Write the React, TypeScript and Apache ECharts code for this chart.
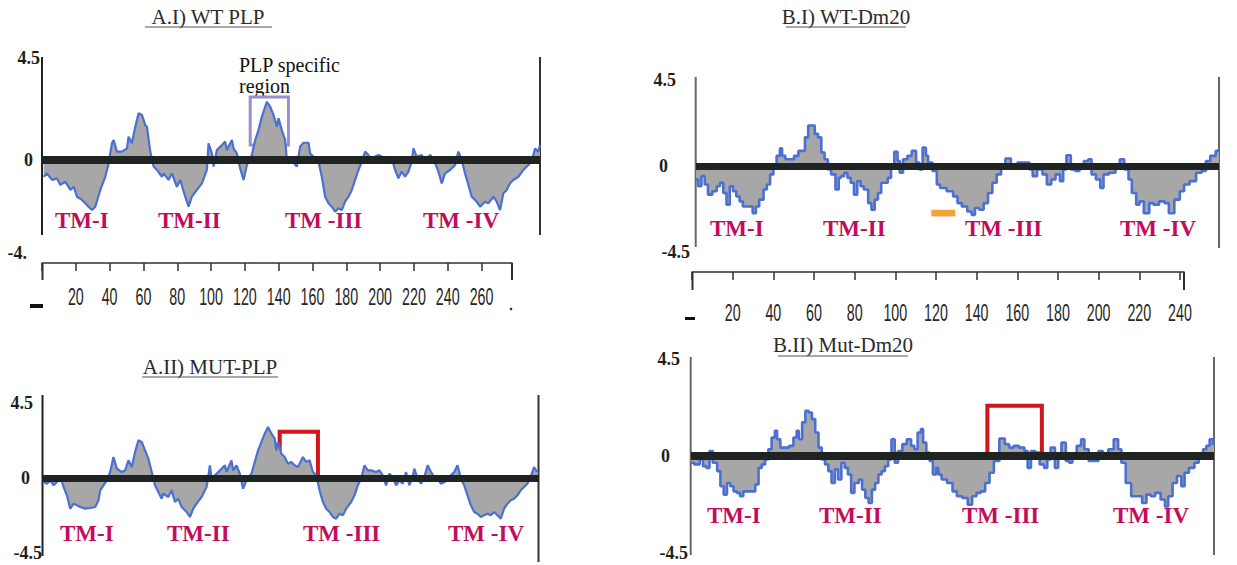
import React, { useEffect, useRef } from 'react';
import * as echarts from 'echarts';

// Hydropathy profiles: [residue position, hydropathy score]
const wtPlp: [number, number][] = [[1,-0.74],[3,-0.59],[6,-0.88],[9,-0.81],[11,-1.10],[14,-0.96],[17,-1.32],[19,-1.18],[21,-1.62],[24,-1.76],[27,-1.99],[30,-2.21],[32,-2.06],[35,-1.32],[38,-0.74],[40,-0.15],[42,0.74],[43,0.88],[45,0.37],[48,0.37],[51,0.51],[52,1.03],[54,0.74],[56,1.47],[58,2.06],[60,1.99],[62,1.54],[63,1.47],[65,0.37],[67,-0.29],[69,-0.44],[72,-0.74],[73,-0.59],[76,-0.88],[78,-0.59],[81,-1.18],[83,-0.88],[86,-1.62],[88,-2.06],[90,-1.62],[93,-1.32],[96,-1.03],[99,-0.44],[100,0.74],[102,0.29],[103,-0.29],[105,0.44],[108,0.66],[110,0.81],[111,0.44],[114,0.88],[115,0.51],[117,0.29],[119,-0.37],[121,-0.88],[123,-0.22],[126,0.22],[128,0.88],[130,1.32],[132,1.91],[135,2.57],[137,2.35],[139,1.99],[141,1.47],[142,1.84],[144,1.32],[146,0.88],[147,0],[148,-0.15],[150,0],[153,-0.29],[155,0.59],[157,0.76],[160,0.76],[161,0.29],[163,0.15],[166,-0.07],[168,-0.74],[170,-1.62],[172,-1.91],[174,-2.06],[176,-2.28],[178,-2.13],[180,-2.21],[182,-1.84],[184,-1.62],[186,-1.32],[188,-0.88],[190,-0.44],[192,-0.07],[194,0.37],[196,0.22],[198,-0.07],[200,0.15],[202,0.22],[204,0.15],[206,-0.07],[208,0.15],[210,0.07],[212,-0.44],[214,-0.81],[216,-0.51],[218,-0.74],[220,-0.51],[222,-0.07],[223,0.51],[225,0.15],[228,0.22],[230,-0.07],[233,0.22],[235,0.07],[238,-0.51],[240,-1.03],[242,-0.59],[245,-0.44],[248,-0.22],[250,0.37],[252,0],[254,-0.59],[256,-1.10],[258,-1.62],[261,-1.84],[263,-2.06],[266,-1.84],[268,-1.91],[271,-1.62],[273,-1.84],[275,-2.21],[277,-1.47],[279,-1.32],[281,-1.03],[283,-0.88],[286,-0.74],[289,-0.44],[292,-0.22],[294,-0.07],[296,0.51],[298,0.37],[299,0.66]];

const mutPlp: [number, number][] = [[1,-0.24],[3,-0.34],[5,-0.14],[7,-0.44],[9,-0.24],[11,0.06],[13,-0.54],[15,-1.04],[17,-1.84],[19,-1.54],[21,-1.64],[23,-1.74],[26,-1.84],[29,-1.80],[32,-1.74],[34,-1.34],[35,-0.74],[37,-0.44],[39,-0.14],[41,0.36],[43,1.26],[45,0.56],[48,0.36],[50,0.46],[52,1.06],[54,0.66],[56,1.56],[58,2.26],[60,2.16],[62,1.66],[64,1.16],[66,0.36],[68,-0.44],[70,-0.84],[72,-1.24],[73,-0.94],[76,-1.14],[78,-0.74],[80,-1.44],[82,-1.24],[84,-1.74],[87,-2.04],[89,-2.34],[91,-1.84],[93,-1.54],[96,-1.14],[99,-0.54],[100,0.06],[101,0.76],[102,-0.04],[105,0.26],[108,0.56],[110,0.76],[111,0.36],[114,1.06],[115,0.46],[117,0.76],[119,0.26],[121,-0.64],[123,-0.14],[126,0.26],[128,0.96],[130,1.66],[132,2.16],[134,2.66],[136,3.06],[138,2.66],[140,2.36],[141,1.66],[142,2.16],[144,1.46],[146,1.26],[148,0.86],[150,0.96],[152,0.76],[154,0.66],[157,1.26],[159,0.96],[161,1.06],[163,0.36],[165,0.16],[167,-0.74],[169,-1.44],[171,-1.84],[173,-2.04],[175,-2.34],[177,-2.44],[179,-2.14],[181,-2.24],[183,-1.84],[186,-1.44],[188,-1.04],[190,-0.44],[192,-0.04],[194,0.76],[196,0.46],[198,0.46],[201,0.36],[203,0.46],[205,0.16],[207,-0.44],[209,0.26],[211,0.06],[213,-0.44],[215,-0.14],[217,-0.34],[219,0.36],[221,-0.44],[223,0.06],[224,0.56],[226,-0.04],[228,-0.34],[230,0.06],[232,0.76],[234,0.36],[236,0.06],[238,-0.04],[240,-0.34],[242,-0.24],[244,-0.14],[246,0.16],[248,0.36],[250,0.76],[252,-0.04],[254,-0.44],[256,-1.04],[258,-1.64],[260,-2.04],[262,-2.14],[264,-2.34],[266,-2.24],[268,-2.14],[270,-2.24],[272,-2.04],[274,-2.24],[276,-2.44],[278,-1.84],[280,-1.54],[282,-1.34],[284,-1.24],[286,-1.04],[288,-0.74],[290,-0.54],[292,-0.34],[294,0.06],[296,0.66],[298,0.36]];

const wtDm20: [number, number][] = [[0,-0.71],[2,-1.06],[3,-0.53],[5,-0.97],[6,-1.5],[9,-1.32],[10,-1.06],[12,-0.88],[13,-1.41],[15,-2.03],[16,-1.06],[18,-1.32],[19,-1.59],[21,-1.85],[22,-2.12],[25,-2.12],[27,-2.47],[28,-2.12],[30,-1.76],[32,-1.23],[33,-0.97],[35,-0.44],[36,-0.09],[38,0.53],[39,0.92],[40,0.53],[42,0.35],[44,0.35],[46,0.53],[48,0.79],[49,0.79],[51,1.5],[52,2.12],[54,2.12],[55,1.68],[57,1.5],[58,0.71],[60,0.35],[61,-0.18],[63,-0.44],[65,-1.23],[66,-0.62],[67,-0.53],[69,-0.35],[70,-0.62],[72,-0.88],[73,-1.5],[75,-0.79],[76,-1.06],[78,-1.23],[80,-1.94],[81,-2.29],[83,-1.76],[84,-1.41],[86,-0.88],[87,-0.88],[89,-0.62],[90,0],[92,0.74],[93,0.26],[94,-0.35],[96,0.35],[98,0.53],[100,0.79],[102,0.18],[103,-0.18],[105,0.97],[106,0.53],[107,0.18],[110,-0.26],[111,-0.97],[113,-1.15],[117,-1.32],[119,-1.59],[121,-1.94],[123,-2.12],[126,-2.38],[127,-2.56],[129,-2.2],[131,-2.29],[133,-1.94],[135,-1.41],[137,-0.88],[139,-0.44],[141,0],[143,0.39],[146,0],[149,0.18],[152,0.18],[154,-0.18],[155,-0.53],[158,-0.18],[160,-0.44],[162,-0.97],[164,-0.71],[166,-0.44],[168,-0.79],[169,-0.18],[171,0.56],[173,-0.18],[175,-0.26],[177,0],[179,0.26],[181,0.35],[182,-0.44],[185,-0.71],[186,-1.15],[188,-0.44],[191,-0.35],[194,0],[195,0.35],[198,-0.18],[199,-0.71],[201,-1.41],[203,-2.03],[204,-1.85],[207,-2.47],[209,-1.94],[211,-2.03],[214,-1.85],[216,-1.94],[218,-2.47],[221,-1.76],[223,-1.32],[225,-0.97],[228,-0.79],[231,-0.35],[233,-0.26],[235,0.26],[237,0.53],[240,0.79]];

const mutDm20: [number, number][] = [[0,-0.31],[3,-0.39],[5,-0.16],[6,-0.47],[8,-0.55],[9,0.23],[11,-0.31],[13,-0.7],[14,-1.4],[16,-1.79],[17,-1.25],[19,-1.4],[20,-1.64],[22,-1.71],[23,-1.87],[25,-1.64],[26,-1.64],[29,-1.64],[30,-1.32],[32,-0.55],[33,-0.39],[35,-0.16],[36,0.31],[38,0.86],[39,1.17],[40,0.78],[42,0.39],[44,0.39],[46,0.47],[48,0.86],[49,1.17],[50,0.78],[52,1.56],[53,2.1],[55,2.02],[56,1.71],[58,1.09],[59,0.39],[61,-0.16],[62,-0.39],[64,-0.7],[65,-1.25],[67,-0.62],[68,-1.09],[70,-0.31],[71,-0.55],[73,-0.86],[74,-1.71],[76,-1.25],[78,-1.09],[79,-1.56],[81,-1.95],[82,-2.18],[84,-1.56],[85,-1.25],[87,-0.86],[88,-0.7],[90,-0.47],[91,-0.16],[93,0.78],[94,-0.31],[96,0.23],[98,0.55],[100,0.78],[102,0.47],[103,0.31],[105,1.09],[106,1.25],[107,0.62],[109,0.16],[110,-0.23],[112,-0.86],[113,-0.55],[114,-0.86],[116,-1.09],[119,-1.25],[121,-1.64],[123,-1.87],[126,-1.95],[128,-2.26],[130,-1.87],[132,-1.71],[134,-1.64],[136,-1.25],[138,-0.78],[140,-0.23],[143,0.81],[145,0.55],[147,0.39],[149,0.47],[152,0.39],[154,0.23],[155,-0.55],[157,0.23],[159,0.16],[161,-0.39],[163,-0.55],[164,-0.16],[166,0.39],[168,-0.55],[169,0],[171,0.62],[173,-0.23],[174,-0.31],[176,-0.08],[178,0.47],[180,0.78],[181,0.31],[184,-0.23],[186,-0.23],[188,0.23],[190,-0.08],[193,0.31],[195,0.78],[197,0.31],[198,-0.31],[201,-1.25],[203,-1.87],[206,-1.87],[208,-2.18],[210,-1.79],[212,-1.87],[214,-1.71],[217,-2.02],[218,-2.34],[220,-1.87],[222,-1.25],[224,-0.93],[226,-1.4],[227,-0.78],[230,-0.55],[232,-0.31],[234,-0.08],[236,0.31],[237,0.47],[239,0.78],[240,0.55]];

// Highlight boxes: [xFrom, yFrom, xTo, yTo]
const plpSpecificBox = [125, 2.78, 148, 0.66];
const mutPlpBox = [143, 2.77, 166, -0.1];
const mutDm20Box = [136, 2.33, 161, -0.04];
const dm20Deletion = [108, -2.29, 119, -2.64];

const yTicks = [-4.5, 0, 4.5];
const rulerAMax = 278;
const rulerBMax = 242;
const rulerALabels = [20, 40, 60, 80, 100, 120, 140, 160, 180, 200, 220, 240, 260];
const rulerBLabels = [20, 40, 60, 80, 100, 120, 140, 160, 180, 200, 220, 240];
const tmNames = ['TM-I', 'TM-II', 'TM -III', 'TM -IV'];

const SERIF = '"Liberation Serif", "Times New Roman", serif';
const SANS = '"Liberation Sans", Arial, sans-serif';
const TM_COLOR = '#c30c5c';
const LINE_BLUE = '#4b6fd2';
const FILL = '#a7a7a7';

function yAxisFor(gridIndex: number, bottomText: string, pads: number[], bottomShift: number) {
  const base = { fontFamily: SERIF, fontWeight: 'bold' as const, fontSize: 18, color: '#1e1e1e' };
  return {
    gridIndex,
    type: 'value',
    min: yTicks[0],
    max: yTicks[2],
    interval: 4.5,
    axisLine: { show: false },
    axisTick: { show: false },
    splitLine: { show: false },
    axisLabel: {
      margin: 0,
      formatter: (v: number) => (v > 0 ? '{t|4.5}' : v === 0 ? '{z|0}' : '{b|' + bottomText + '}'),
      rich: {
        t: { ...base, padding: [0, pads[0], 0, 0] },
        z: { ...base, padding: [0, pads[1], 0, 0] },
        b: { ...base, padding: [0, pads[2], bottomShift, 0] },
      },
    },
  };
}

function plotSeries(idx: number, data: [number, number][], stepped: boolean, areas: any[]) {
  return {
    type: 'line',
    xAxisIndex: idx,
    yAxisIndex: idx,
    data,
    step: stepped ? 'middle' : false,
    showSymbol: false,
    symbol: 'none',
    lineStyle: { color: LINE_BLUE, width: stepped ? 2.6 : 2.2 },
    areaStyle: { color: FILL, opacity: 1 },
    z: 2,
    markLine: {
      silent: true,
      symbol: ['none', 'none'],
      label: { show: false },
      lineStyle: { color: '#1f2422', width: idx === 1 || idx === 2 ? 7 : 8, type: 'solid' },
      data: [{ yAxis: 0 }],
    },
    markArea: {
      silent: true,
      label: { show: false },
      data: areas,
    },
  };
}

function box(b: number[], style: any) {
  return [
    { xAxis: b[0], yAxis: b[1], itemStyle: style },
    { xAxis: b[2], yAxis: b[3] },
  ];
}

function rulerAxis(gridIndex: number, max: number) {
  return {
    gridIndex,
    type: 'value',
    min: 0,
    max,
    interval: 20,
    position: 'bottom',
    axisLine: { show: true, lineStyle: { color: '#303030', width: 1.5 } },
    axisTick: { show: true, length: 8, lineStyle: { color: '#303030', width: 1.5 } },
    splitLine: { show: false },
    axisLabel: { show: false },
  };
}

// tick labels of the residue rulers, drawn through the ruler axis scale (condensed like the original)
function rulerLabels(idx: number, values: number[], offset: number) {
  return {
    type: 'custom',
    xAxisIndex: idx,
    yAxisIndex: idx,
    silent: true,
    clip: false,
    data: values.map((v) => [v, 0]),
    renderItem: (_params: any, api: any) => {
      const p = api.coord([api.value(0), 0]);
      return {
        type: 'text',
        x: p[0],
        y: p[1] + offset,
        scaleX: 0.62,
        style: {
          text: String(api.value(0)),
          fontFamily: SANS,
          fontSize: 23,
          fill: '#262626',
          align: 'center',
          verticalAlign: 'middle',
        },
      };
    },
  };
}

function vline(x: number, y1: number, y2: number, color: string) {
  return { type: 'line', shape: { x1: x, y1, x2: x, y2 }, style: { stroke: color, lineWidth: 2 }, silent: true };
}
function hline(x1: number, x2: number, y: number, color: string, w = 1.2) {
  return { type: 'line', shape: { x1, y1: y, x2, y2: y }, style: { stroke: color, lineWidth: w }, silent: true };
}
function label(text: string, x: number, y: number, opts: any = {}) {
  return {
    type: 'text',
    x,
    y,
    silent: true,
    style: {
      text,
      fontFamily: SERIF,
      fontSize: 20,
      fill: '#333',
      align: 'left',
      verticalAlign: 'middle',
      ...opts,
    },
  };
}
function tm(text: string, x: number, y: number) {
  return label(text, x, y, { fontSize: 23, fontWeight: 'bold', fill: TM_COLOR });
}

const tmA1 = [55, 158, 285, 423];
const tmA2 = [60, 167, 303, 448];
const tmB1 = [710, 823, 965, 1120];
const tmB2 = [707, 819, 962, 1113];

const option: any = {
  animation: false,
  backgroundColor: '#ffffff',
  grid: [
    { left: 42, top: 58, width: 498, height: 204 },
    { left: 42, top: 403, width: 497, height: 150 },
    { left: 696, top: 80, width: 523, height: 172 },
    { left: 691, top: 359, width: 523, height: 194 },
    { left: 42, top: 255, width: 470, height: 8 },
    { left: 692, top: 264, width: 492, height: 8 },
  ],
  xAxis: [
    { gridIndex: 0, type: 'value', min: 0, max: 299, show: false },
    { gridIndex: 1, type: 'value', min: 0, max: 299, show: false },
    { gridIndex: 2, type: 'value', min: 0, max: 240, show: false },
    { gridIndex: 3, type: 'value', min: 0, max: 240, show: false },
    rulerAxis(4, rulerAMax),
    rulerAxis(5, rulerBMax),
  ],
  yAxis: [
    yAxisFor(0, '-4.', [2, 9, 15], 18),
    yAxisFor(1, '-4.5', [9, 12, 0], 0),
    yAxisFor(2, '-4.5', [20, 28, 6], 0),
    yAxisFor(3, '-4.5', [11, 21, 3], 0),
    { gridIndex: 4, type: 'value', min: 0, max: 1, show: false },
    { gridIndex: 5, type: 'value', min: 0, max: 1, show: false },
  ],
  series: [
    plotSeries(0, wtPlp, false, [box(plpSpecificBox, { color: 'rgba(0,0,0,0)', borderColor: '#9c8fcb', borderWidth: 3 })]),
    plotSeries(1, mutPlp, false, [box(mutPlpBox, { color: 'rgba(0,0,0,0)', borderColor: '#d0151d', borderWidth: 4 })]),
    plotSeries(2, wtDm20, true, [box(dm20Deletion, { color: '#f2a236', borderWidth: 0 })]),
    plotSeries(3, mutDm20, true, [box(mutDm20Box, { color: 'rgba(0,0,0,0)', borderColor: '#d0151d', borderWidth: 4 })]),
    rulerLabels(4, rulerALabels, 34),
    rulerLabels(5, rulerBLabels, 41),
  ],
  graphic: [
    // panel frame lines
    vline(42, 57, 235, '#222'),
    vline(540, 57, 235, '#333'),
    vline(42.5, 395, 556, '#222'),
    vline(538.5, 395, 562, '#333'),
    vline(695.7, 77, 247, '#666'),
    vline(1219, 77, 248, '#666'),
    vline(690.7, 357, 555, '#666'),
    vline(1214, 357, 555, '#666'),
    // longer end ticks of the residue rulers
    vline(42.5, 263, 280, '#303030'),
    vline(512, 263, 280, '#303030'),
    vline(692.5, 272, 290, '#303030'),
    vline(1184, 272, 290, '#303030'),
    { type: 'rect', shape: { x: 30, y: 304, width: 13, height: 4 }, style: { fill: '#111' }, silent: true },
    { type: 'rect', shape: { x: 685, y: 317, width: 10, height: 3 }, style: { fill: '#111' }, silent: true },
    { type: 'circle', shape: { cx: 511, cy: 309, r: 1.3 }, style: { fill: '#333' }, silent: true },
    // titles
    label('A.I) WT PLP', 208, 17, { align: 'center', fontSize: 21, fill: '#2a2a2a' }),
    hline(145, 272, 27, '#555'),
    label('B.I) WT-Dm20', 846, 17, { align: 'center', fontSize: 21, fill: '#2a2a2a' }),
    hline(786, 906, 27, '#555'),
    label('A.II) MUT-PLP', 210, 367, { align: 'center', fontSize: 21, fill: '#2a2a2a' }),
    hline(142, 278, 377, '#555'),
    label('B.II) Mut-Dm20', 843, 345, { align: 'center', fontSize: 21, fill: '#2a2a2a' }),
    hline(778, 908, 356, '#555'),
    // annotation
    label('PLP specific', 239, 65, { fill: '#111' }),
    label('region', 239, 86, { fill: '#111' }),
    // transmembrane labels
    ...tmNames.map((t, i) => tm(t, tmA1[i], 220)),
    ...tmNames.map((t, i) => tm(t, tmA2[i], 533)),
    ...tmNames.map((t, i) => tm(t, tmB1[i], 228)),
    ...tmNames.map((t, i) => tm(t, tmB2[i], 515)),
  ],
};

export default function App() {
  const ref = useRef<HTMLDivElement>(null);
  useEffect(() => {
    document.body.style.margin = '0';
    const chart = echarts.init(ref.current as HTMLDivElement, null, { renderer: 'svg' });
    chart.setOption(option);
    return () => chart.dispose();
  }, []);
  return (
    <div
      ref={ref}
      style={{ position: 'absolute', left: 0, top: 0, width: 1237, height: 565, background: '#fff' }}
    />
  );
}
